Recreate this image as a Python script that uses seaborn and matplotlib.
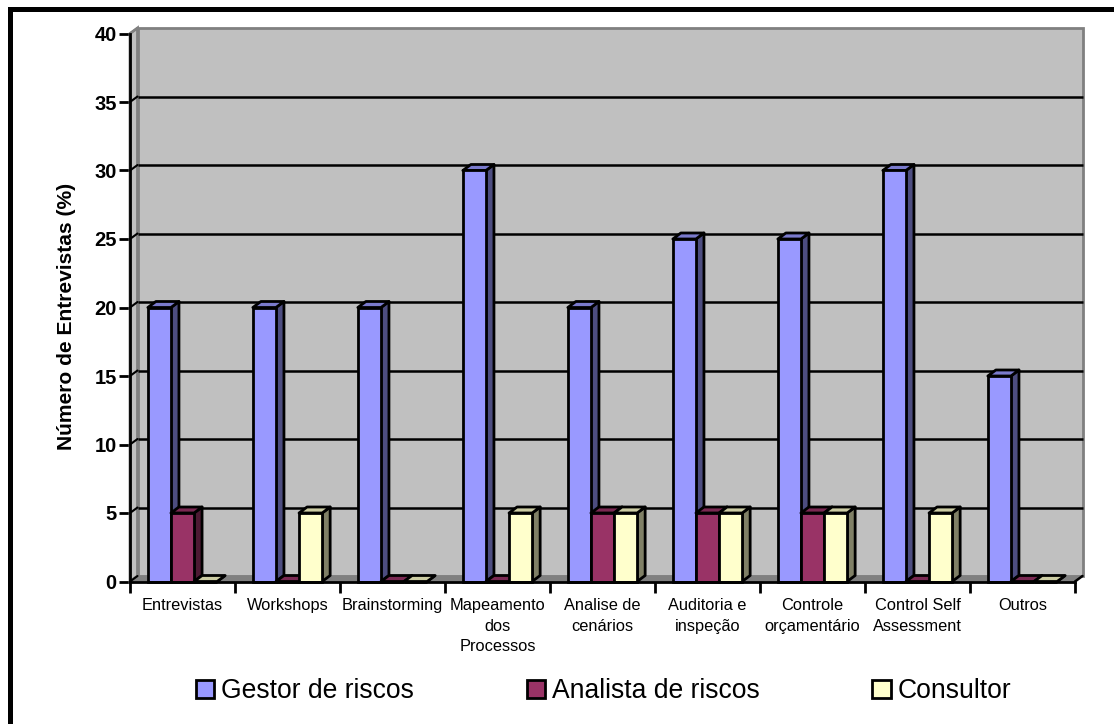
import pandas as pd
import matplotlib
matplotlib.use('Agg')
import matplotlib.pyplot as plt
from matplotlib.patches import Patch, Polygon, Rectangle
import seaborn as sns

# Values
categorias = ['Entrevistas', 'Workshops', 'Brainstorming', 'Mapeamento\ndos\nProcessos',
              'Analise de\ncenários', 'Auditoria e\ninspeção', 'Controle\norçamentário',
              'Control Self\nAssessment', 'Outros']
gestor = [20, 20, 20, 30, 20, 25, 25, 30, 15]
analista = [5, 0, 0, 0, 5, 5, 5, 0, 0]
consultor = [0, 5, 0, 5, 5, 5, 5, 5, 0]
series = ['Gestor de riscos', 'Analista de riscos', 'Consultor']
y_ticks = [0, 5, 10, 15, 20, 25, 30, 35, 40]

cores = ['#9999FF', '#993366', '#FFFFCC']
cores_lado = ['#4D4D80', '#4D1A33', '#808066']
cores_topo = ['#7A7ACC', '#7A2952', '#CCCCA3']

df = pd.DataFrame({'categoria': categorias * 3,
                   'serie': [s for s in series for _ in categorias],
                   'valor': gestor + analista + consultor})

sns.set_theme(style='white')
plt.rcParams['font.family'] = ['Liberation Sans', 'DejaVu Sans']

W, H = 1114, 724
fig = plt.figure(figsize=(W / 100, H / 100), dpi=100, facecolor='white')
ax = fig.add_axes([130 / W, (H - 581.5) / H, 945 / W, 548 / H])

sns.barplot(data=df, x='categoria', y='valor', hue='serie', hue_order=series,
            palette=cores, width=0.66, gap=0, saturation=1, legend=False,
            edgecolor='black', linewidth=2, ax=ax)

ax.set_xlim(-0.5, 8.5)
ax.set_ylim(0, 40)
ax.set_facecolor('none')

# fake 3D depth, in data units
wx = 7.5 / 105
wy = 5.5 * 40 / 548
bx = 8 / 105
by = 6 * 40 / 548
x0, x1 = -0.5, 8.5

# back wall, side wall and floor
ax.add_patch(Polygon([(x0 + wx, wy), (x1 + wx, wy), (x1 + wx, 40 + wy), (x0 + wx, 40 + wy)],
                     fc='#C0C0C0', ec='#808080', lw=2, zorder=0.5, clip_on=False))
ax.add_patch(Polygon([(x0, 0), (x0 + wx, wy), (x0 + wx, 40 + wy), (x0, 40)],
                     fc='#C0C0C0', ec='#808080', lw=2, zorder=0.6, clip_on=False))
ax.add_patch(Polygon([(x0, 0), (x1, 0), (x1 + wx, wy), (x0 + wx, wy)],
                     fc='#808080', ec='#808080', lw=0.5, zorder=0.8, clip_on=False))
for t in y_ticks[1:-1]:
    ax.plot([x0 + wx, x1 + wx], [t + wy, t + wy], color='black', lw=1.8, zorder=0.7,
            solid_capstyle='butt', clip_on=False)
for t in y_ticks:
    ax.plot([x0, x0 + wx], [t, t + wy], color='black' if t < 40 else '#808080', lw=1.5,
            zorder=0.9, clip_on=False)
ax.plot([x1, x1 + wx], [0, wy], color='black', lw=1.8, zorder=0.9, clip_on=False)

# bar sides and tops, painted left to right
barras = [p for p in ax.patches if isinstance(p, Rectangle)]
for i, bar in enumerate(barras):
    s = i // 9
    x = bar.get_x()
    w = bar.get_width()
    h = bar.get_height()
    z = 2 + x
    bar.set_zorder(z + 0.02)
    bar.set_clip_on(False)
    ax.add_patch(Polygon([(x + w, 0), (x + w + bx, by), (x + w + bx, h + by), (x + w, h)],
                         fc=cores_lado[s], ec='black', lw=2, zorder=z, clip_on=False,
                         joinstyle='round'))
    ax.add_patch(Polygon([(x, h), (x + w, h), (x + w + bx, h + by), (x + bx, h + by)],
                         fc=cores_topo[s], ec='black', lw=2, zorder=z + 0.01, clip_on=False,
                         joinstyle='round'))

# axes and ticks
sns.despine(ax=ax, top=True, right=True)
for lado in ['left', 'bottom']:
    ax.spines[lado].set_linewidth(2)
    ax.spines[lado].set_color('black')
    ax.spines[lado].set_zorder(20)

ax.set_yticks(y_ticks)
ax.set_yticklabels([str(t) for t in y_ticks], fontsize=14.5, fontweight='bold')
ax.tick_params(axis='y', left=True, length=8, width=2, color='black', pad=1.5, labelcolor='black')
ax.set_xticks(range(len(categorias)))
ax.set_xticklabels(categorias, fontsize=11.8, linespacing=1.47, color='black')
ax.set_xticks([i - 0.5 for i in range(len(categorias) + 1)], minor=True)
ax.tick_params(axis='x', which='major', bottom=False, pad=6)
ax.tick_params(axis='x', which='minor', bottom=True, length=8, width=2, color='black')
ax.set_xlabel('')
ax.set_ylabel('Número de Entrevistas (%)', fontsize=15.1, fontweight='bold', color='black',
              labelpad=13.5, y=0.484)

# legend
handles = [Patch(fc=c, ec='black', lw=2) for c in cores]
fig.legend(handles, series, loc='center', bbox_to_anchor=(603.5 / W, (H - 691) / H),
           ncol=3, frameon=False, fontsize=19.1, handlelength=0.68, handleheight=0.68,
           handletextpad=0.26, columnspacing=4.26, borderpad=0, labelcolor='black')

# black border, top and left only
fig.add_artist(Rectangle((8 / W, (H - 12) / H), 1 - 8 / W, 5 / H, transform=fig.transFigure, fc='black', ec='none'))
fig.add_artist(Rectangle((8 / W, 0), 5 / W, (H - 7) / H, transform=fig.transFigure, fc='black', ec='none'))

fig.savefig('out.png', dpi=100)
